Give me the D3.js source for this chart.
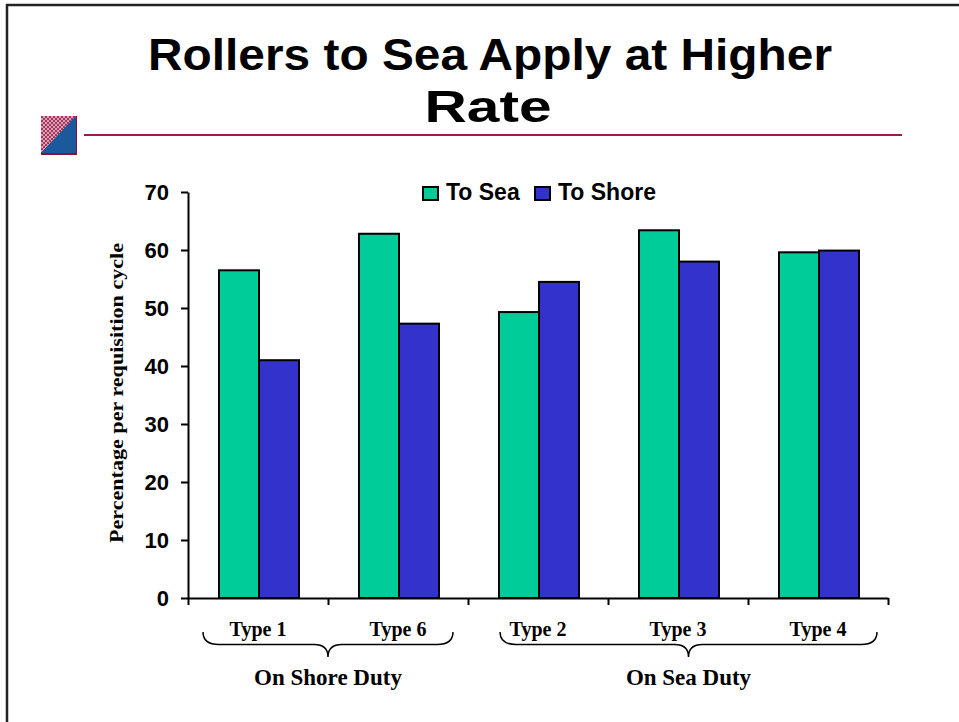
<!DOCTYPE html>
<html>
<head>
<meta charset="utf-8">
<script src="https://cdn.jsdelivr.net/npm/d3@7"></script>
<style>
  body { margin: 0; background: #fff; }
  svg { display: block; }
  .title { font-family: "Liberation Sans", Arial, sans-serif; font-weight: bold; font-size: 44px; }
  .axis text { font-family: "Liberation Sans", Arial, sans-serif; font-weight: bold; font-size: 22px; fill: #000; }
  .axis path, .axis line { stroke: #000; stroke-width: 2px; }
  .serif { font-family: "Liberation Serif", "Times New Roman", serif; font-weight: bold; }
</style>
</head>
<body>
<div id="chart"></div>
<script>
const categories = ['Type 1', 'Type 6', 'Type 2', 'Type 3', 'Type 4'];
const toSea = [56.5, 62.8, 49.3, 63.4, 59.6];
const toShore = [41.0, 47.3, 54.5, 58.0, 59.9];
const seriesNames = ['To Sea', 'To Shore'];
const seriesColors = ['#00cc99', '#3333cc'];
const yTicks = [0, 10, 20, 30, 40, 50, 60, 70];
const groupNames = ['On Shore Duty', 'On Sea Duty'];
const groupFirst = ['Type 1', 'Type 2'];
const groupLast = ['Type 6', 'Type 4'];
const titleLines = ['Rollers to Sea Apply at Higher', 'Rate'];

const width = 959, height = 722;
const svg = d3.select('#chart').append('svg')
  .attr('width', width)
  .attr('height', height);

// slide frame
svg.append('path')
  .attr('d', 'M7,722 V5 H959')
  .attr('fill', 'none')
  .attr('stroke', '#222')
  .attr('stroke-width', 2.5);

// little logo square + rule
const pat = svg.append('defs').append('pattern')
  .attr('id', 'chk').attr('width', 4).attr('height', 4)
  .attr('patternUnits', 'userSpaceOnUse');
pat.append('rect').attr('width', 4).attr('height', 4).attr('fill', '#d7a0b4');
pat.append('rect').attr('width', 2).attr('height', 2).attr('fill', '#a8375f');
pat.append('rect').attr('x', 2).attr('y', 2).attr('width', 2).attr('height', 2).attr('fill', '#a8375f');
const logo = svg.append('g').attr('transform', 'translate(41,116)');
logo.append('rect').attr('width', 36).attr('height', 39).attr('fill', '#8a1040');
logo.append('polygon').attr('points', '0,0 35,0 0,37').attr('fill', 'url(#chk)');
logo.append('polygon').attr('points', '35,0 35,37 0,37').attr('fill', '#1a5a9c');

svg.append('line')
  .attr('x1', 84).attr('x2', 902)
  .attr('y1', 135).attr('y2', 135)
  .attr('stroke', '#9b1b4a')
  .attr('stroke-width', 2);

// title (stretched to the widths of the original)
const titleX = [490, 488];
const titleY = [70, 122];
const titleW = [684, 127];
svg.append('g').selectAll('text')
  .data(titleLines)
  .join('text')
    .attr('class', 'title')
    .attr('text-anchor', 'middle')
    .attr('x', (d, i) => titleX[i])
    .attr('y', (d, i) => titleY[i])
    .attr('textLength', (d, i) => titleW[i])
    .attr('lengthAdjust', 'spacingAndGlyphs')
    .text(d => d);

// scales
const x = d3.scaleBand().domain(categories).range([188, 888]);
const xs = d3.scaleBand().domain(seriesNames).range([31, 111]);
const y = d3.scaleLinear().domain([0, 70]).range([598, 192]);
const xEdge = d3.scaleLinear().domain([0, categories.length]).range([188, 888]);

// bars
const rows = categories.map((c, i) => ({cat: c, values: [toSea[i], toShore[i]]}));
svg.append('g').selectAll('g')
  .data(rows)
  .join('g')
    .attr('transform', d => `translate(${x(d.cat)},0)`)
  .selectAll('rect')
  .data(d => d.values.map((v, j) => ({name: seriesNames[j], v: v, color: seriesColors[j]})))
  .join('rect')
    .attr('x', d => xs(d.name))
    .attr('width', xs.bandwidth())
    .attr('y', d => y(d.v))
    .attr('height', d => y(0) - y(d.v))
    .attr('fill', d => d.color)
    .attr('stroke', '#000')
    .attr('stroke-width', 2);

// y axis
svg.append('g')
  .attr('class', 'axis')
  .attr('transform', 'translate(188,0)')
  .call(d3.axisLeft(y).tickValues(yTicks).tickSize(7).tickSizeOuter(0).tickPadding(12))
  .selectAll('text').attr('dy', '0.36em');

// x axis, ticks between categories
svg.append('g')
  .attr('class', 'axis')
  .attr('transform', `translate(0,${y(0)})`)
  .call(d3.axisBottom(xEdge).tickValues(d3.range(categories.length + 1)).tickSize(7).tickSizeOuter(0).tickFormat(''));

// category labels
svg.append('g').selectAll('text')
  .data(categories)
  .join('text')
    .attr('class', 'serif')
    .attr('x', d => x(d) + x.bandwidth() / 2)
    .attr('y', 636)
    .attr('text-anchor', 'middle')
    .attr('font-size', 20)
    .text(d => d);

// braces + group labels
function brace(x1, x2, top, depth) {
  const mid = (x1 + x2) / 2, b = top + depth * 0.5;
  return `M${x1},${top} Q${x1},${b} ${x1 + 16},${b} L${mid - 14},${b} Q${mid},${b} ${mid},${top + depth}` +
    ` Q${mid},${b} ${mid + 14},${b} L${x2 - 16},${b} Q${x2},${b} ${x2},${top}`;
}
const braceInset = [[15, 15], [32, 11]];
const gg = svg.append('g');
groupNames.forEach((name, i) => {
  const left = x(groupFirst[i]) + braceInset[i][0];
  const right = x(groupLast[i]) + x.bandwidth() - braceInset[i][1];
  gg.append('path')
    .attr('d', brace(left, right, 632, 25))
    .attr('fill', 'none')
    .attr('stroke', '#000')
    .attr('stroke-width', 1.5);
  gg.append('text')
    .attr('class', 'serif')
    .attr('x', (left + right) / 2)
    .attr('y', 685)
    .attr('text-anchor', 'middle')
    .attr('font-size', 23)
    .text(name);
});

// y axis title
svg.append('text')
  .attr('class', 'serif')
  .attr('transform', 'translate(123,393) rotate(-90)')
  .attr('text-anchor', 'middle')
  .attr('font-size', 18)
  .attr('textLength', 300)
  .attr('lengthAdjust', 'spacingAndGlyphs')
  .text('Percentage per requisition cycle');

// legend
const legend = svg.append('g').attr('transform', 'translate(423,187)');
const lx = [0, 112];
seriesNames.forEach((s, i) => {
  legend.append('rect')
    .attr('x', lx[i]).attr('y', 0)
    .attr('width', 15).attr('height', 13)
    .attr('fill', seriesColors[i])
    .attr('stroke', '#000')
    .attr('stroke-width', 2);
  legend.append('text')
    .attr('x', lx[i] + 23).attr('y', 13)
    .style('font-family', '"Liberation Sans", Arial, sans-serif')
    .style('font-weight', 'bold')
    .style('font-size', '23px')
    .text(s);
});
</script>
</body>
</html>
